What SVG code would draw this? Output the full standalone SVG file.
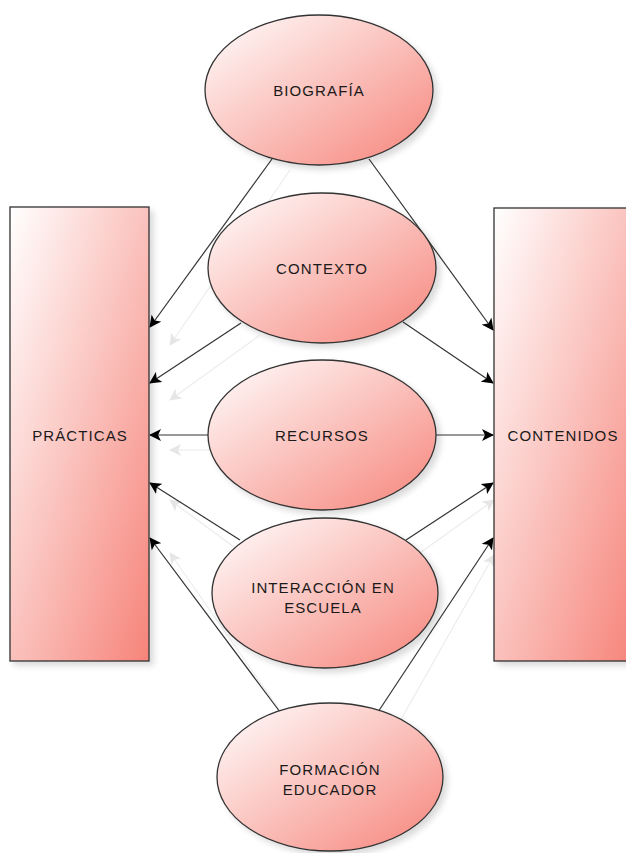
<svg xmlns="http://www.w3.org/2000/svg" width="626" height="853" viewBox="0 0 626 853">
  <defs>
    <linearGradient id="fill" x1="0" y1="0" x2="1" y2="1">
      <stop offset="0" stop-color="#ffffff"/>
      <stop offset="1" stop-color="#f6847a"/>
    </linearGradient>
    <filter id="shadow" x="-20%" y="-20%" width="150%" height="150%">
      <feGaussianBlur in="SourceAlpha" stdDeviation="3"/>
      <feOffset dx="4" dy="4"/>
      <feComponentTransfer><feFuncA type="linear" slope="0.15"/></feComponentTransfer>
      <feMerge><feMergeNode/><feMergeNode in="SourceGraphic"/></feMerge>
    </filter>
    <marker id="arrow" viewBox="0 0 12 12" refX="11" refY="6" markerWidth="12" markerHeight="12" markerUnits="userSpaceOnUse" orient="auto">
      <path d="M0,0 L12,6 L0,12 L3,6 Z" fill="#000"/>
    </marker>
    <marker id="arrowFaint" viewBox="0 0 12 12" refX="11" refY="6" markerWidth="12" markerHeight="12" markerUnits="userSpaceOnUse" orient="auto">
      <path d="M0,0 L12,6 L0,12 L3,6 Z" fill="#e6e6e6"/>
    </marker>
  </defs>
  <style>
    .shape { fill: url(#fill); stroke: #333; stroke-width: 1.3; filter: url(#shadow); }
    .label { font-family: "Liberation Sans", Arial, sans-serif; font-size: 15px; letter-spacing: 1.1px; fill: #1a1a1a; text-anchor: middle; }
    .edge { stroke: #333; stroke-width: 1.2; fill: none; marker-end: url(#arrow); }
    .edge-shadow { stroke: #ececec; stroke-width: 1.2; fill: none; marker-end: url(#arrowFaint); }
  </style>
  <rect width="626" height="853" fill="#ffffff"/>

  <!-- soft connector shadows -->
  <g id="connector-shadows">
    <path class="edge-shadow" d="M290,170 L170,345"/>
    <path class="edge-shadow" d="M260,335 L170,400"/>
    <path class="edge-shadow" d="M215,450 L170,450"/>
    <path class="edge-shadow" d="M245,555 L170,500"/>
    <path class="edge-shadow" d="M290,725 L170,553"/>
    <path class="edge-shadow" d="M410,560 L494,500"/>
    <path class="edge-shadow" d="M395,730 L494,555"/>
  </g>

  <!-- connectors -->
  <g id="connectors">
    <path class="edge" d="M272,159 L150,327"/>
    <path class="edge" d="M241,323 L150,383"/>
    <path class="edge" d="M208,435 L150,435"/>
    <path class="edge" d="M240,540 L150,483"/>
    <path class="edge" d="M280,712 L150,538"/>
    <path class="edge" d="M369,159 L493,330"/>
    <path class="edge" d="M403,322 L493,383"/>
    <path class="edge" d="M436,435 L493,435"/>
    <path class="edge" d="M406,540 L493,483"/>
    <path class="edge" d="M378,712 L493,538"/>
  </g>

  <g id="practicas">
    <rect class="shape" x="10" y="207" width="139" height="454"/>
    <text class="label" x="80" y="441">PRÁCTICAS</text>
  </g>
  <g id="contenidos">
    <rect class="shape" x="494" y="208" width="140" height="453"/>
    <text class="label" x="563" y="441">CONTENIDOS</text>
  </g>

  <g id="biografia">
    <ellipse class="shape" cx="319" cy="90" rx="114" ry="75"/>
    <text class="label" x="319" y="96">BIOGRAFÍA</text>
  </g>
  <g id="contexto">
    <ellipse class="shape" cx="322" cy="268" rx="114" ry="75"/>
    <text class="label" x="322" y="274">CONTEXTO</text>
  </g>
  <g id="recursos">
    <ellipse class="shape" cx="322" cy="435" rx="114" ry="75"/>
    <text class="label" x="322" y="441">RECURSOS</text>
  </g>
  <g id="interaccion">
    <ellipse class="shape" cx="325" cy="593" rx="113" ry="75"/>
    <text class="label" x="323" y="593">INTERACCIÓN EN</text>
    <text class="label" x="323" y="613">ESCUELA</text>
  </g>
  <g id="formacion">
    <ellipse class="shape" cx="330" cy="777" rx="113" ry="74"/>
    <text class="label" x="330" y="775">FORMACIÓN</text>
    <text class="label" x="330" y="795">EDUCADOR</text>
  </g>
</svg>
